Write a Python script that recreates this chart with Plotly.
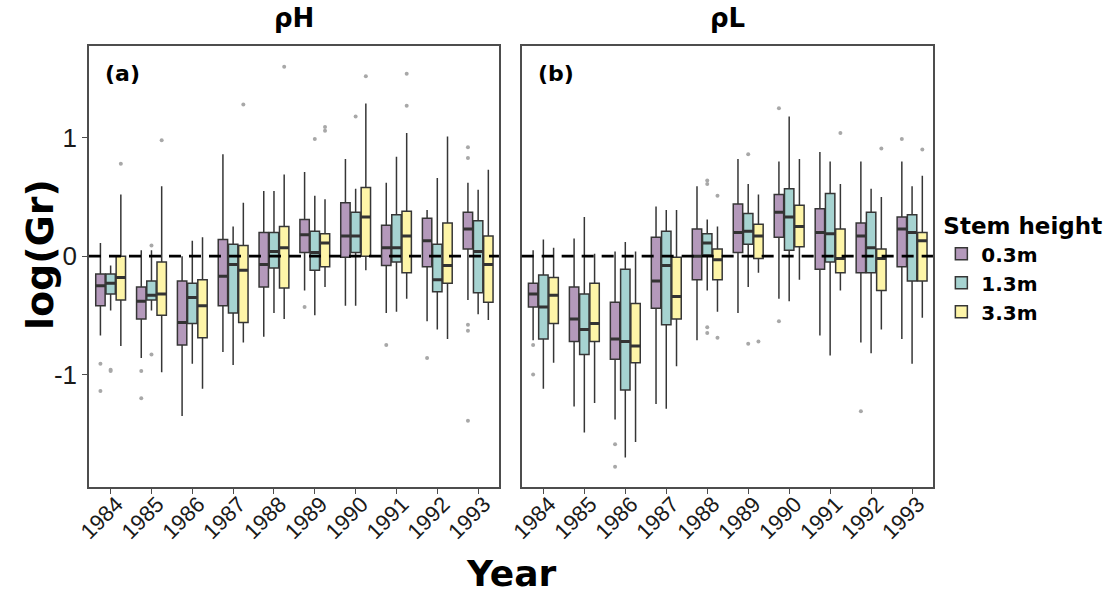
import plotly.graph_objects as go

years = [1984, 1985, 1986, 1987, 1988, 1989, 1990, 1991, 1992, 1993]
groups = ["0.3m", "1.3m", "3.3m"]
colors = ["rgba(68,1,84,0.4)", "rgba(33,144,140,0.4)", "rgba(253,231,37,0.4)"]
offsets = [-0.25, 0.0, 0.25]

# ---- Panel (a) rho H ----
a_03_lo = [-0.67, -0.86, -1.35, -0.81, -0.68, -0.29, -0.42, -0.48, -0.55, -0.37]
a_03_q1 = [-0.42, -0.53, -0.75, -0.42, -0.26, 0.03, -0.01, -0.08, -0.09, 0.06]
a_03_md = [-0.25, -0.38, -0.56, -0.17, -0.07, 0.18, 0.17, 0.07, 0.13, 0.23]
a_03_q3 = [-0.15, -0.26, -0.21, 0.14, 0.20, 0.31, 0.45, 0.26, 0.32, 0.37]
a_03_hi = [0.11, 0.05, 0.00, 0.86, 0.55, 0.71, 0.82, 0.62, 0.39, 0.62]
a_03_out_yr = [1984, 1984, 1985, 1985, 1989, 1991, 1992, 1993, 1993, 1993, 1993, 1993]
a_03_out_v = [-0.91, -1.14, -0.97, -1.20, -0.43, -0.75, -0.86, 0.92, 0.83, -0.58, -0.63, -1.39]

a_13_lo = [-0.46, -0.46, -0.91, -0.92, -0.48, -0.50, -0.42, -0.47, -0.62, -0.49]
a_13_q1 = [-0.32, -0.37, -0.57, -0.48, -0.10, -0.12, 0.03, -0.05, -0.30, -0.31]
a_13_md = [-0.23, -0.33, -0.35, -0.07, 0.04, 0.03, 0.17, 0.07, -0.20, 0.04]
a_13_q3 = [-0.15, -0.21, -0.23, 0.10, 0.20, 0.21, 0.37, 0.35, 0.10, 0.30]
a_13_hi = [-0.08, 0.05, 0.13, 0.25, 0.55, 0.51, 0.57, 0.84, 0.66, 0.56]
a_13_out_yr = [1984, 1984, 1985, 1985, 1989, 1990]
a_13_out_v = [-0.96, -0.97, 0.09, -0.83, 0.99, 1.18]

a_33_lo = [-0.76, -0.98, -1.12, -0.73, -0.53, -0.26, -0.12, -0.36, -0.70, -0.54]
a_33_q1 = [-0.37, -0.50, -0.69, -0.56, -0.27, -0.09, 0.00, -0.14, -0.23, -0.39]
a_33_md = [-0.18, -0.32, -0.42, -0.12, 0.07, 0.11, 0.33, 0.17, -0.08, -0.07]
a_33_q3 = [0.00, -0.05, -0.20, 0.09, 0.25, 0.19, 0.58, 0.38, 0.28, 0.17]
a_33_hi = [0.52, 0.59, 0.16, 0.45, 0.69, 0.48, 1.29, 1.04, 1.01, 0.73]
a_33_out_yr = [1984, 1985, 1987, 1988, 1989, 1989, 1990, 1991, 1991]
a_33_out_v = [0.78, 0.98, 1.28, 1.60, 1.09, 1.06, 1.52, 1.54, 1.27]

# ---- Panel (b) rho L ----
b_03_lo = [-0.71, -1.27, -1.38, -1.25, -0.71, -0.48, -0.36, -0.67, -0.73, -0.70]
b_03_q1 = [-0.43, -0.72, -0.87, -0.44, -0.20, 0.03, 0.16, -0.11, -0.14, -0.09]
b_03_md = [-0.32, -0.53, -0.70, -0.21, 0.00, 0.20, 0.37, 0.20, 0.17, 0.23]
b_03_q3 = [-0.23, -0.26, -0.39, 0.16, 0.23, 0.44, 0.52, 0.40, 0.28, 0.33]
b_03_hi = [0.05, 0.15, 0.04, 0.42, 0.59, 0.82, 0.80, 0.88, 0.80, 0.80]
b_03_out_yr = [1984, 1984, 1986, 1986, 1990, 1990, 1992, 1993]
b_03_out_v = [-0.75, -1.00, -1.59, -1.78, 1.25, -0.55, -1.31, 0.99]

b_13_lo = [-1.12, -1.49, -1.70, -1.29, -0.29, -0.26, -0.38, -0.84, -0.82, -0.91]
b_13_q1 = [-0.70, -0.83, -1.13, -0.58, 0.01, 0.10, 0.05, -0.05, -0.14, -0.21]
b_13_md = [-0.43, -0.62, -0.72, -0.08, 0.11, 0.21, 0.33, 0.19, 0.07, 0.20]
b_13_q3 = [-0.16, -0.32, -0.11, 0.21, 0.19, 0.36, 0.57, 0.53, 0.37, 0.35]
b_13_hi = [0.14, 0.33, 0.12, 0.39, 0.31, 0.61, 1.18, 0.80, 0.57, 0.59]
b_13_out_yr = [1988, 1988, 1988, 1988, 1989, 1989]
b_13_out_v = [0.64, 0.61, -0.60, -0.65, 0.86, -0.74]

b_33_lo = [-0.90, -1.24, -1.57, -0.93, -0.47, -0.14, -0.20, -0.29, -0.62, -0.52]
b_33_q1 = [-0.57, -0.72, -0.90, -0.53, -0.20, -0.02, 0.08, -0.14, -0.29, -0.21]
b_33_md = [-0.33, -0.57, -0.76, -0.34, -0.03, 0.17, 0.25, -0.02, -0.02, 0.13]
b_33_q3 = [-0.18, -0.23, -0.40, -0.01, 0.06, 0.27, 0.43, 0.23, 0.06, 0.20]
b_33_hi = [0.07, 0.02, 0.04, 0.39, 0.25, 0.52, 0.82, 0.61, 0.50, 0.68]
b_33_out_yr = [1988, 1988, 1989, 1991, 1992, 1993]
b_33_out_v = [0.51, -0.69, -0.72, 1.04, 0.91, 0.90]

panel_titles = ["ρH", "ρL"]
panel_tags = ["(a)", "(b)"]
y_ticks = [-1, 0, 1]

panels = [
    [(a_03_lo, a_03_q1, a_03_md, a_03_q3, a_03_hi, a_03_out_yr, a_03_out_v),
     (a_13_lo, a_13_q1, a_13_md, a_13_q3, a_13_hi, a_13_out_yr, a_13_out_v),
     (a_33_lo, a_33_q1, a_33_md, a_33_q3, a_33_hi, a_33_out_yr, a_33_out_v)],
    [(b_03_lo, b_03_q1, b_03_md, b_03_q3, b_03_hi, b_03_out_yr, b_03_out_v),
     (b_13_lo, b_13_q1, b_13_md, b_13_q3, b_13_hi, b_13_out_yr, b_13_out_v),
     (b_33_lo, b_33_q1, b_33_md, b_33_q3, b_33_hi, b_33_out_yr, b_33_out_v)],
]

BOXW = 0.23
fig = go.Figure()
for p, panel in enumerate(panels):
    xa = "x" if p == 0 else "x2"
    ya = "y" if p == 0 else "y2"
    for g, (lo, q1, md, q3, hi, oyr, ov) in enumerate(panel):
        xs = [yr + offsets[g] for yr in years]
        fig.add_trace(go.Box(
            x=xs, q1=q1, median=md, q3=q3, lowerfence=lo, upperfence=hi,
            width=BOXW, whiskerwidth=0, boxpoints=False,
            fillcolor=colors[g], line=dict(color="#363636", width=1.5),
            name=f"<b>{groups[g]}</b>", legendgroup=groups[g], showlegend=(p == 0),
            xaxis=xa, yaxis=ya, hoverinfo="skip"))
        # thicker median line (ggplot style)
        fig.add_trace(go.Box(
            x=xs, q1=md, median=md, q3=md, lowerfence=md, upperfence=md,
            width=BOXW, whiskerwidth=0, boxpoints=False,
            fillcolor="rgba(0,0,0,0)", line=dict(color="#333333", width=3),
            showlegend=False, legendgroup=groups[g],
            xaxis=xa, yaxis=ya, hoverinfo="skip"))
        fig.add_trace(go.Scatter(
            x=[yr + offsets[g] for yr in oyr], y=ov, mode="markers",
            marker=dict(size=4, color="#a8a8a8"),
            showlegend=False, xaxis=xa, yaxis=ya, hoverinfo="skip"))

axis_common = dict(showgrid=False, zeroline=False, showline=True, mirror=True,
                   linecolor="#4d4d4d", linewidth=1.5, automargin=False)
xr = [1983.47, 1993.51]
yr_range = [-1.95, 1.775]
ydom = [0.1829, 0.9228]
tickfont_x = dict(family="Liberation Sans, Arial, sans-serif", size=22, color="#1a1a1a")
xtick_common = dict(range=xr, tickvals=years, ticktext=[str(y) for y in years],
                    tickangle=-45, ticks="outside", ticklen=5, tickcolor="#4d4d4d",
                    tickfont=tickfont_x, ticklabelstandoff=-11, ticklabelshift=6)
fig.update_layout(
    width=1118, height=596,
    margin=dict(l=0, r=0, t=0, b=0),
    plot_bgcolor="white", paper_bgcolor="white",
    font=dict(family="Liberation Sans, Arial, sans-serif", color="black"),
    boxmode="overlay",
    xaxis=dict(domain=[0.0796, 0.4463], anchor="y", **xtick_common, **axis_common),
    xaxis2=dict(domain=[0.4666, 0.8345], anchor="y2", **xtick_common, **axis_common),
    yaxis=dict(domain=ydom, range=yr_range, tickvals=y_ticks,
               ticktext=[str(v) for v in y_ticks], ticks="outside", ticklen=5,
               tickcolor="#4d4d4d",
               tickfont=dict(family="Liberation Sans, Arial, sans-serif", size=26,
                             color="#1a1a1a"),
               anchor="x", **axis_common),
    yaxis2=dict(domain=ydom, range=yr_range, matches="y", showticklabels=False,
                ticks="", anchor="x2", **axis_common),
    legend=dict(title=dict(text="<b>Stem height</b>",
                           font=dict(family="DejaVu Sans, sans-serif", size=23)),
                font=dict(family="DejaVu Sans, sans-serif", size=20, color="black"),
                x=0.842, y=0.657, xanchor="left", yanchor="top", tracegroupgap=0,
                itemwidth=30, bgcolor="rgba(0,0,0,0)"),
)

for p, xref in enumerate(["x", "x2"]):
    fig.add_shape(type="line", xref=f"{xref} domain", yref="y" if p == 0 else "y2",
                  x0=0, x1=1, y0=0, y1=0,
                  line=dict(color="black", width=2.6, dash="12px,8px"), layer="above")

dom = [[0.0796, 0.4463], [0.4666, 0.8345]]
for p in range(2):
    cx = (dom[p][0] + dom[p][1]) / 2
    fig.add_annotation(text=f"<b>{panel_titles[p]}</b>", x=cx, y=0.970, xref="paper",
                       yref="paper", showarrow=False,
                       font=dict(family="DejaVu Sans, sans-serif", size=26, color="black"),
                       xanchor="center", yanchor="middle")
    fig.add_annotation(text=f"<b>{panel_tags[p]}</b>", x=dom[p][0] + 0.0125, y=0.8775,
                       xref="paper", yref="paper", showarrow=False,
                       font=dict(family="DejaVu Sans, sans-serif", size=22, color="black"),
                       xanchor="left", yanchor="middle")

fig.add_annotation(text="<b>log(Gr)</b>", x=0.0358, y=0.572, xref="paper", yref="paper",
                   showarrow=False, textangle=-90,
                   font=dict(family="DejaVu Sans, sans-serif", size=38, color="black"),
                   xanchor="center", yanchor="middle")
fig.add_annotation(text="<b>Year</b>", x=0.457, y=0.0, xref="paper", yref="paper",
                   showarrow=False,
                   font=dict(family="DejaVu Sans, sans-serif", size=36, color="black"),
                   xanchor="center", yanchor="bottom")

fig.write_html("out.html")
